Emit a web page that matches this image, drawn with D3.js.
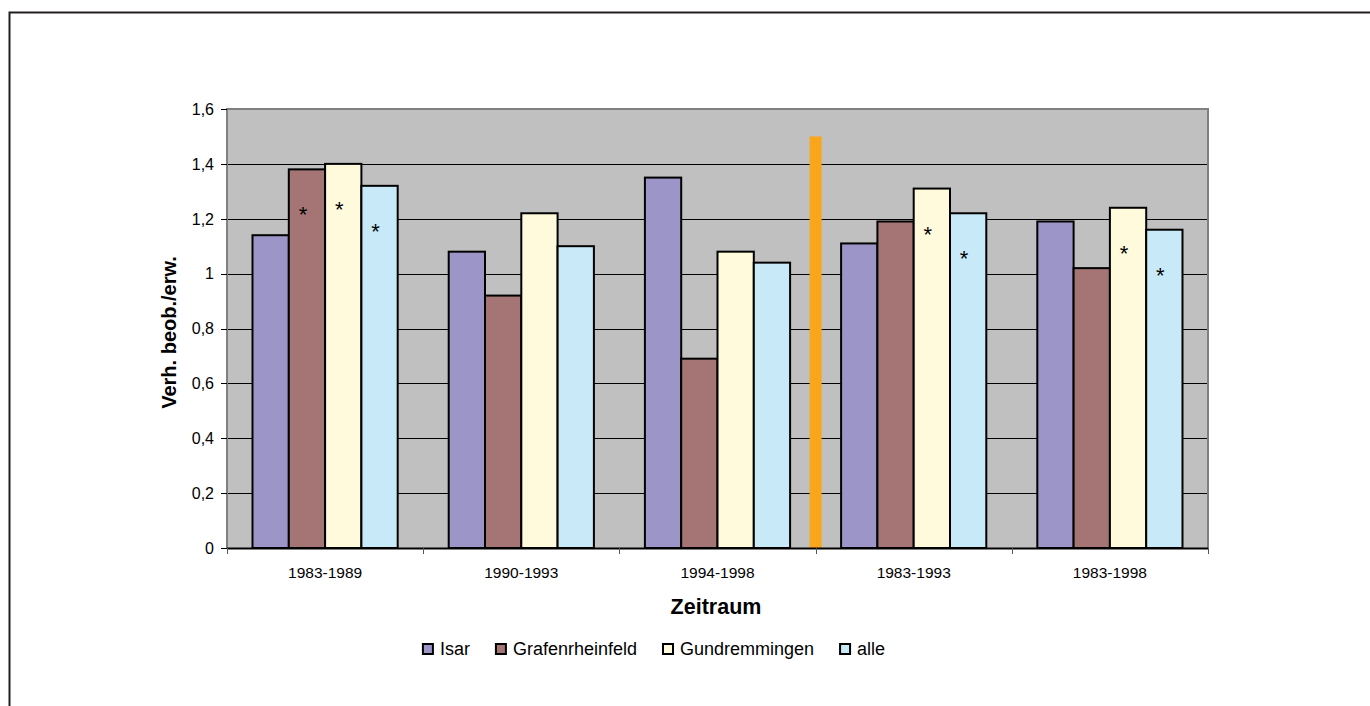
<!DOCTYPE html>
<html>
<head>
<meta charset="utf-8">
<script src="https://cdn.jsdelivr.net/npm/d3@7"></script>
<style>
  html, body { margin: 0; padding: 0; background: #fff; }
  svg { display: block; font-family: "Liberation Sans", Arial, sans-serif; }
</style>
</head>
<body>
<svg id="chart" width="1370" height="706"></svg>
<script>
// ---- data ----
const categories = ["1983-1989", "1990-1993", "1994-1998", "1983-1993", "1983-1998"];
const seriesNames = ["Isar", "Grafenrheinfeld", "Gundremmingen", "alle"];
const isar = [1.14, 1.08, 1.35, 1.11, 1.19];
const grafenrheinfeld = [1.38, 0.92, 0.69, 1.19, 1.02];
const gundremmingen = [1.40, 1.22, 1.08, 1.31, 1.24];
const alle = [1.32, 1.10, 1.04, 1.22, 1.16];
// significance markers (*) per series, per category
const starIsar = [false, false, false, false, false];
const starGrafenrheinfeld = [true, false, false, false, false];
const starGundremmingen = [true, false, false, true, true];
const starAlle = [true, false, false, true, true];
const yTicks = [0, 0.2, 0.4, 0.6, 0.8, 1, 1.2, 1.4, 1.6];
const separatorValue = 1.5; // orange divider between period groups
const yTitle = "Verh. beob./erw.";
const xTitle = "Zeitraum";

const seriesValues = [isar, grafenrheinfeld, gundremmingen, alle];
const seriesStars = [starIsar, starGrafenrheinfeld, starGundremmingen, starAlle];
const colors = ["#9C96C8", "#A57474", "#FFFADC", "#C8EAF8"];

// ---- layout ----
const svg = d3.select("#chart");
const plot = { left: 227, right: 1208, top: 109, bottom: 548 };

// outer frame
svg.append("rect").attr("x", 9.5).attr("y", 12.5).attr("width", 1400).attr("height", 800)
  .attr("fill", "none").attr("stroke", "#231f20").attr("stroke-width", 2);

const x0 = d3.scaleBand().domain(categories).range([plot.left, plot.right])
  .paddingInner(0.26).paddingOuter(0.13);
const x1 = d3.scaleBand().domain(seriesNames).range([0, x0.bandwidth()]);
const y = d3.scaleLinear().domain([0, 1.6]).range([plot.bottom, plot.top]);

// plot background
svg.append("rect").attr("x", plot.left).attr("y", plot.top)
  .attr("width", plot.right - plot.left).attr("height", plot.bottom - plot.top)
  .attr("fill", "#C0C0C0");

// gridlines
svg.append("g").selectAll("line").data(yTicks.filter(t => t > 0 && t < 1.6)).join("line")
  .attr("x1", plot.left).attr("x2", plot.right)
  .attr("y1", d => Math.round(y(d)) + 0.5).attr("y2", d => Math.round(y(d)) + 0.5)
  .attr("stroke", "#000").attr("stroke-width", 1);

// plot frame (top, right, left) gray
svg.append("path")
  .attr("d", `M${plot.left},${plot.bottom} V${plot.top} H${plot.right} V${plot.bottom}`)
  .attr("fill", "none").attr("stroke", "#808080").attr("stroke-width", 2);

// separator
const sepX = x0.step() * 3 + plot.left;
svg.append("rect").attr("x", sepX - 6).attr("width", 12)
  .attr("y", y(separatorValue)).attr("height", y(0) - y(separatorValue))
  .attr("fill", "#F9A61C");

// bars
const cells = (c, ci) => seriesNames.map((s, si) => ({ s, si, v: seriesValues[si][ci], star: seriesStars[si][ci] }));
const groups = svg.append("g").selectAll("g").data(categories).join("g")
  .attr("transform", d => `translate(${x0(d)},0)`);
groups.selectAll("rect").data(cells)
  .join("rect")
  .attr("x", d => x1(d.s)).attr("width", x1.bandwidth())
  .attr("y", d => y(d.v)).attr("height", d => y(0) - y(d.v))
  .attr("fill", d => colors[d.si]).attr("stroke", "#000").attr("stroke-width", 2);
groups.selectAll("text").data((c, ci) => cells(c, ci).filter(d => d.star))
  .join("text")
  .attr("x", d => x1(d.s) + x1.bandwidth() / 2 - 4)
  .attr("y", d => y(d.v) + 53)
  .attr("text-anchor", "middle").attr("font-size", 22).attr("fill", "#000")
  .text("*");

// y axis ticks + labels
const yAxis = svg.append("g");
yAxis.selectAll("line").data(yTicks).join("line")
  .attr("x1", plot.left - 6).attr("x2", plot.left)
  .attr("y1", d => Math.round(y(d)) + 0.5).attr("y2", d => Math.round(y(d)) + 0.5)
  .attr("stroke", "#000");
yAxis.selectAll("text").data(yTicks).join("text")
  .attr("x", plot.left - 13).attr("y", d => y(d)).attr("dy", "0.36em")
  .attr("text-anchor", "end").attr("font-size", 16).attr("fill", "#000")
  .text(d => d3.format(".1~f")(d).replace(".", ","));

// x axis line + ticks + labels
svg.append("line").attr("x1", plot.left).attr("x2", plot.right)
  .attr("y1", plot.bottom + 0.5).attr("y2", plot.bottom + 0.5)
  .attr("stroke", "#000").attr("stroke-width", 2);
const bounds = d3.range(categories.length + 1).map(i => plot.left + i * x0.step());
svg.append("g").selectAll("line").data(bounds).join("line")
  .attr("x1", d => Math.round(d) + 0.5).attr("x2", d => Math.round(d) + 0.5)
  .attr("y1", plot.bottom).attr("y2", plot.bottom + 6)
  .attr("stroke", "#555");
svg.append("g").selectAll("text").data(categories).join("text")
  .attr("x", d => x0(d) + x0.bandwidth() / 2).attr("y", 578)
  .attr("text-anchor", "middle").attr("font-size", 15.5).attr("fill", "#000")
  .text(d => d);

// axis titles
svg.append("text").attr("transform", `translate(176,${(plot.top + plot.bottom) / 2 + 4}) rotate(-90)`)
  .attr("text-anchor", "middle").attr("font-size", 20).attr("font-weight", "bold")
  .text(yTitle);
svg.append("text").attr("x", 716).attr("y", 614)
  .attr("text-anchor", "middle").attr("font-size", 21.5).attr("font-weight", "bold")
  .text(xTitle);

// legend
const legend = svg.append("g");
const items = legend.selectAll("g").data(seriesNames).join("g");
items.append("rect").attr("x", 0).attr("y", -5).attr("width", 10).attr("height", 10)
  .attr("fill", (d, i) => colors[i]).attr("stroke", "#000").attr("stroke-width", 2);
items.append("text").attr("x", 17).attr("y", 0).attr("dy", "0.36em")
  .attr("font-size", 18).attr("fill", "#000").text(d => d);
let cx = 0;
const widths = [];
items.each(function () {
  const w = 17 + this.querySelector("text").getComputedTextLength();
  widths.push(w);
});
const gap = 26;
const total = d3.sum(widths) + gap * (widths.length - 1);
items.attr("transform", (d, i) => {
  const xPos = cx; cx += widths[i] + gap;
  return `translate(${xPos},0)`;
});
legend.attr("transform", `translate(${654 - total / 2},649)`);
</script>
</body>
</html>
